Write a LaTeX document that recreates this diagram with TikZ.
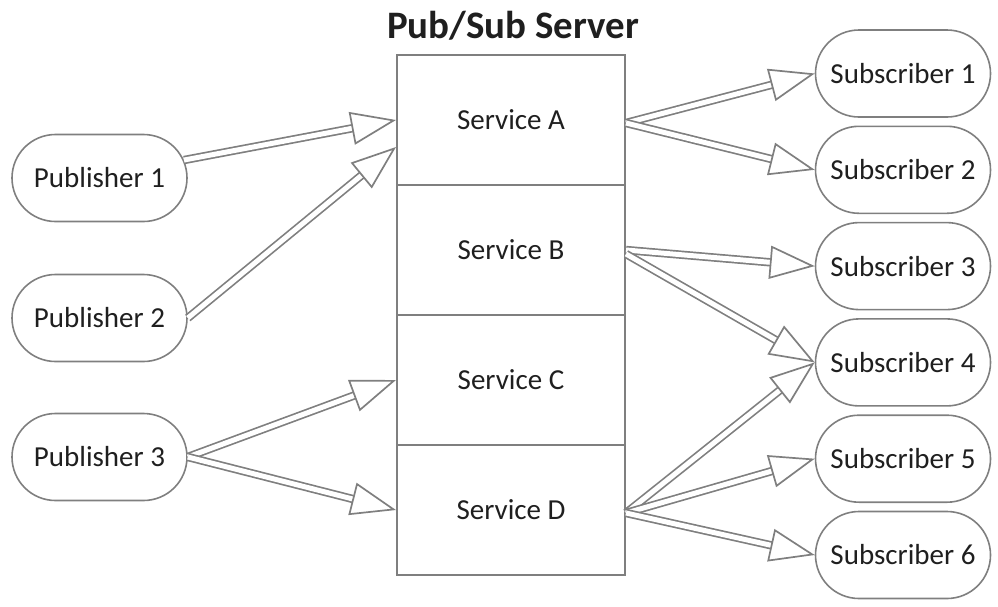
\documentclass[tikz,border=0pt]{standalone}
\usepackage{fontspec}
\setmainfont{Carlito}
\usetikzlibrary{arrows.meta,shapes.misc}
\definecolor{linegray}{HTML}{7F7F7F}
\definecolor{textgray}{HTML}{1F1F1F}
\tikzset{
  pill/.style={rounded rectangle, draw=linegray, line width=1.6pt, minimum width=175pt, minimum height=87pt, inner sep=0pt, text=textgray, font=\fontsize{29}{34}\selectfont},
  service/.style={rectangle, draw=linegray, line width=2pt, minimum width=228pt, minimum height=130pt, inner sep=0pt, text=textgray, font=\fontsize{29}{34}\selectfont},
  flow/.style={draw=linegray, line width=1.7pt, double=white, double distance=5pt, -{Triangle[open, length=45pt, width=33pt, line width=1.7pt]}}
}

\begin{document}
\begin{tikzpicture}[x=1pt, y=-1pt]
  \useasboundingbox (0,0) rectangle (998,606);
  \node[text=textgray, font=\bfseries\fontsize{38.9}{44}\selectfont] (title) at (513,26) {Pub/Sub Server};
  % server
  \node[service] (svcA) at (511,120) {Service A};
  \node[service] (svcB) at (511,250) {Service B};
  \node[service] (svcC) at (511,380) {Service C};
  \node[service] (svcD) at (511,510) {Service D};
  % publishers
  \node[pill] (pub1) at (99.5,178) {Publisher 1};
  \node[pill] (pub2) at (99.5,318) {Publisher 2};
  \node[pill] (pub3) at (99.5,457) {Publisher 3};
  % subscribers
  \foreach \i/\y in {1/73.5, 2/169.8, 3/266.1, 4/362.4, 5/458.7, 6/555}
    \node[pill] (sub\i) at (903,\y) {Subscriber \i};

  \draw[flow] (pub1.12) -- (svcA.west);
  \draw[flow] (pub2.east) -- ([yshift=-27pt]svcA.west);
  \draw[flow] (pub3.east) -- (svcC.west);
  \draw[flow] (pub3.east) -- (svcD.west);
  \draw[flow] ([yshift=-3pt]svcA.east) -- (sub1.west);
  \draw[flow] ([yshift=-3pt]svcA.east) -- (sub2.west);
  \draw[flow] (svcB.east) -- (sub3.west);
  \draw[flow] ([yshift=-4pt]svcB.east) -- (sub4.west);
  \draw[flow] ([yshift=-3pt]svcD.east) -- (sub4.west);
  \draw[flow] ([yshift=-3pt]svcD.east) -- (sub5.west);
  \draw[flow] ([yshift=-3pt]svcD.east) -- (sub6.west);
\end{tikzpicture}
\end{document}
